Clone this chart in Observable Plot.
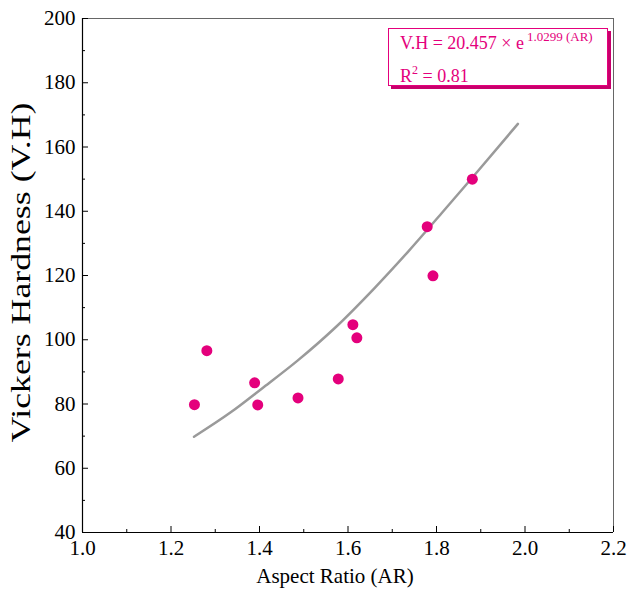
<!DOCTYPE html>
<html>
<head>
<meta charset="utf-8">
<script src="https://cdn.jsdelivr.net/npm/d3@7"></script>
<script src="https://cdn.jsdelivr.net/npm/@observablehq/plot@0.6"></script>
<style>
  html, body { margin: 0; padding: 0; background: #fff; }
  #wrap { position: relative; width: 628px; height: 592px; }
  #wrap svg, #wrap svg text { font-family: "Liberation Serif", "Times New Roman", serif !important; font-variant: normal !important; }
  #eq {
    position: absolute; left: 388px; top: 28px; width: 220px; height: 58px;
    border: 1px solid #e4007c; box-shadow: 3px 3px 0 #c8006c;
    background: #fff; color: #e4007c;
    font-family: "Liberation Serif", "Times New Roman", serif; font-size: 18px;
    box-sizing: border-box;
  }
  #eq .l1 { position: absolute; left: 11px; top: 4px; white-space: nowrap; }
  #eq .l2 { position: absolute; left: 11px; top: 37px; white-space: nowrap; }
  #eq .l1 sup { font-size: 13px; vertical-align: 0; position: relative; top: -8px; margin-left: 3px; }
  #eq .l2 sup { font-size: 12px; vertical-align: 0; position: relative; top: -8px; }
</style>
</head>
<body>
<div id="wrap"></div>
<script>
// Measured points
const aspectRatio = [1.253, 1.281, 1.389, 1.396, 1.487, 1.578, 1.611, 1.620, 1.779, 1.792, 1.881];
const hardness    = [79.8, 96.6, 86.6, 79.7, 81.9, 87.8, 104.7, 100.6, 135.2, 119.9, 150.0];

// Fitted curve
const fitX = [1.252, 1.335, 1.410, 1.486, 1.569, 1.660, 1.735, 1.811, 1.886, 1.984];
const fitY = [69.8, 77.4, 85.3, 93.5, 103.5, 116.1, 127.3, 139.3, 151.3, 167.2];

const xMajor = [1.0, 1.2, 1.4, 1.6, 1.8, 2.0, 2.2];
const xMinor = [1.1, 1.3, 1.5, 1.7, 1.9, 2.1];
const yMajor = [40, 60, 80, 100, 120, 140, 160, 180, 200];
const yMinor = [50, 70, 90, 110, 130, 150, 170, 190];

const points = aspectRatio.map((x, i) => ({x, y: hardness[i]}));
const fit = fitX.map((x, i) => ({x, y: fitY[i]}));

const pink = "#e4007c";
const font = "Liberation Serif, Times New Roman, serif";

const chart = Plot.plot({
  width: 628,
  height: 592,
  marginLeft: 82,
  marginRight: 15,
  marginTop: 18,
  marginBottom: 60,
  style: {fontFamily: font, fontSize: "21px", background: "#fff", color: "#000"},
  x: {domain: [1.0, 2.2]},
  y: {domain: [40, 200]},
  marks: [
    Plot.ruleY([200], {stroke: "#666", strokeWidth: 1}),
    Plot.ruleX([2.2], {stroke: "#666", strokeWidth: 1}),
    Plot.axisX({ticks: xMajor, tickSize: -6, tickPadding: 14, tickFormat: d3.format(".1f"), label: null, fontSize: 21}),
    Plot.axisX({ticks: xMinor, tickSize: -3, text: null, label: null}),
    Plot.axisY({ticks: yMajor, tickSize: -6, tickPadding: 13, label: null, fontSize: 21}),
    Plot.axisY({ticks: yMinor, tickSize: -3, text: null, label: null}),
    Plot.ruleX([1.0], {stroke: "#000", strokeWidth: 1.2}),
    Plot.ruleY([40], {stroke: "#000", strokeWidth: 1.2}),
    Plot.line(fit, {x: "x", y: "y", stroke: "#9a9a9a", strokeWidth: 2.5, curve: "monotone-x"}),
    Plot.dot(points, {x: "x", y: "y", r: 5.5, fill: pink, stroke: "none"}),
    Plot.text(["Aspect Ratio (AR)"], {frameAnchor: "bottom", dx: -13, dy: 50, lineAnchor: "bottom", fontSize: 21, fill: "#000"}),
    Plot.text(["Vickers Hardness (V.H)"], {frameAnchor: "left", dx: -61, dy: -3, rotate: -90, textAnchor: "middle", lineAnchor: "middle", fontSize: 28, fill: "#000", className: "ylab"})
  ]
});

const wrap = document.getElementById("wrap");
wrap.appendChild(chart);
chart.querySelectorAll(".ylab text").forEach(t => {
  t.setAttribute("textLength", 340);
  t.setAttribute("lengthAdjust", "spacingAndGlyphs");
});
const eq = document.createElement("div");
eq.id = "eq";
eq.innerHTML = '<div class="l1">V.H = 20.457 × e<sup>1.0299 (AR)</sup></div><div class="l2">R<sup>2</sup> = 0.81</div>';
wrap.appendChild(eq);
</script>
</body>
</html>
